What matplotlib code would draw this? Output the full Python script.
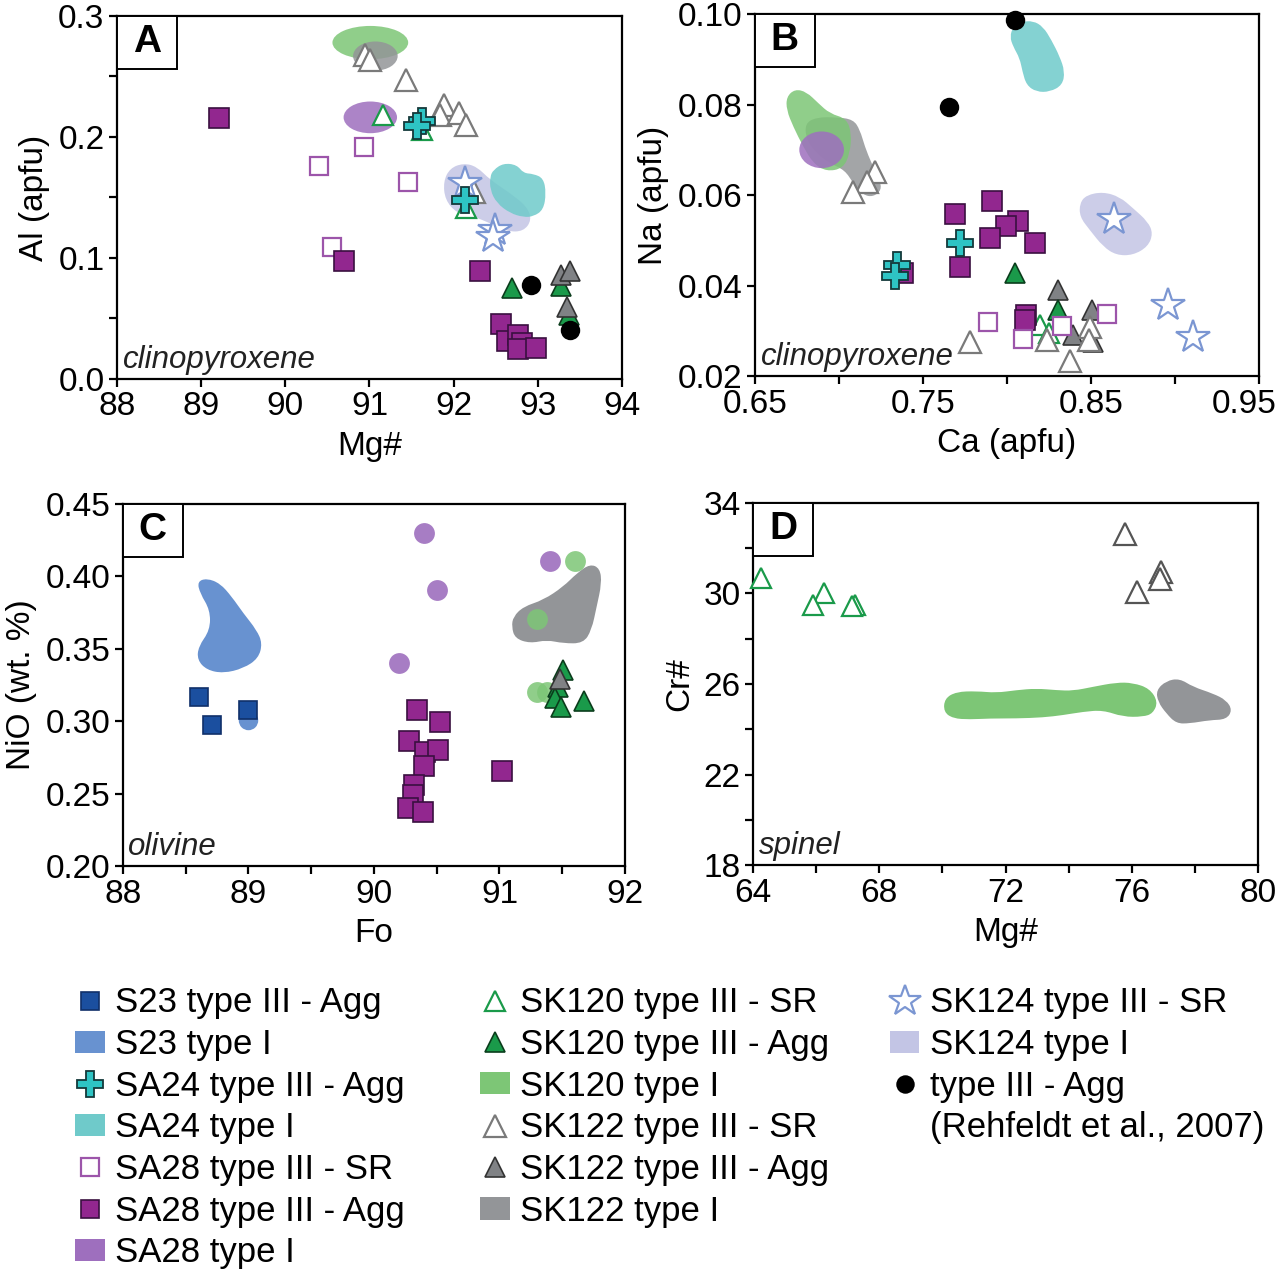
import matplotlib
matplotlib.use("Agg")
import matplotlib.pyplot as plt
import matplotlib.lines as mlines
import matplotlib.patches as mpatches
import matplotlib.transforms as mtransforms
from matplotlib.path import Path
import numpy as np

plt.rcParams['font.family'] = ['Liberation Sans', 'DejaVu Sans']

# ---------------------------------------------------------------------------
# Colours
# ---------------------------------------------------------------------------
C_S23_AGG   = "#1b4f9f"
C_S23_I     = "#6892d0"
C_SA24      = "#2ec4c4"
C_SA24_I    = "#6fcaca"
C_SA28_SR   = "#9c55aa"
C_SA28_AGG  = "#92278f"
C_SA28_I    = "#9e6fbe"
C_SK120     = "#1a9a4a"
C_SK120_I   = "#7dc676"
C_SK122_SR  = "#7a7a7a"
C_SK122_AGG = "#808285"
C_SK122_I   = "#939598"
C_SK124     = "#7b96d2"
C_SK124_I   = "#c3c5e5"

# ---------------------------------------------------------------------------
# Panel A — clinopyroxene, Mg# vs Al (apfu)
# ---------------------------------------------------------------------------
a_sa28_agg_x = [89.21, 90.70, 92.31, 92.56, 92.63, 92.76, 92.81, 92.77, 92.98]
a_sa28_agg_y = [0.2155, 0.0977, 0.0889, 0.0457, 0.0314, 0.0366, 0.0300, 0.0245, 0.0256]
a_sa28_sr_x = [90.40, 90.93, 91.46, 90.55]
a_sa28_sr_y = [0.1764, 0.1921, 0.1627, 0.1090]
a_sk122_sr_x = [90.95, 91.01, 91.43, 91.88, 91.84, 92.06, 92.15, 92.24]
a_sk122_sr_y = [0.2678, 0.2637, 0.2471, 0.2265, 0.2183, 0.2196, 0.2100, 0.1549]
a_sk120_sr_x = [91.16, 91.62, 92.15]
a_sk120_sr_y = [0.2183, 0.2059, 0.1412]
a_sa24_x = [91.62, 91.57, 92.14]
a_sa24_y = [0.2136, 0.2092, 0.1481]
a_sk124_x = [92.14, 92.49, 92.47]
a_sk124_y = [0.1618, 0.1233, 0.1172]
a_sk120_agg_x = [92.69, 93.27, 93.37]
a_sk120_agg_y = [0.0751, 0.0765, 0.0531]
a_sk122_agg_x = [93.27, 93.38, 93.35]
a_sk122_agg_y = [0.0861, 0.0889, 0.0594]
a_lit_x = [92.92, 93.38]
a_lit_y = [0.0773, 0.0402]

# type I fields (ellipses: centre x, centre y, width, height)
a_sk120_field = (91.01, 0.2780, 0.90, 0.0275)
a_sk122_field = (91.07, 0.2669, 0.53, 0.0240)
a_sa28_field  = (91.01, 0.2162, 0.635, 0.0262)
a_sk124_field_x = [91.878, 91.957, 92.116, 92.274, 92.433, 92.671, 92.869, 92.929,
                   92.830, 92.631, 92.433, 92.235, 92.036, 91.898]
a_sk124_field_y = [0.1632, 0.1742, 0.1783, 0.1756, 0.1646, 0.1536, 0.1426, 0.1315,
                   0.1219, 0.1219, 0.1288, 0.1343, 0.1370, 0.1481]
a_sa24_field_x = [92.473, 92.592, 92.750, 92.830, 92.948, 93.067, 93.099, 93.067,
                  92.948, 92.830, 92.671, 92.512, 92.433, 92.433]
a_sa24_field_y = [0.1728, 0.1783, 0.1770, 0.1701, 0.1695, 0.1659, 0.1536, 0.1398,
                  0.1343, 0.1337, 0.1370, 0.1453, 0.1563, 0.1673]

# ---------------------------------------------------------------------------
# Panel B — clinopyroxene, Ca vs Na (apfu)
# ---------------------------------------------------------------------------
b_lit_x = [0.8046, 0.7654]
b_lit_y = [0.0987, 0.0794]
b_sk122_sr_x = [0.7214, 0.7164, 0.7081, 0.7780, 0.8236, 0.8375, 0.8494, 0.8490]
b_sk122_sr_y = [0.0652, 0.0629, 0.0607, 0.0276, 0.0280, 0.0234, 0.0308, 0.0280]
b_sk122_agg_x = [0.8306, 0.8504, 0.8395, 0.8512]
b_sk122_agg_y = [0.0390, 0.0346, 0.0291, 0.0276]
b_sk120_agg_x = [0.8048, 0.8306]
b_sk120_agg_y = [0.0427, 0.0346]
b_sk120_sr_x = [0.8196, 0.8250]
b_sk120_sr_y = [0.0313, 0.0295]
b_sa28_agg_x = [0.7690, 0.7912, 0.8066, 0.7997, 0.7898, 0.8169, 0.7719, 0.7382, 0.8113, 0.8107]
b_sa28_agg_y = [0.0559, 0.0587, 0.0543, 0.0531, 0.0506, 0.0495, 0.0442, 0.0427, 0.0335, 0.0324]
b_sa28_sr_x = [0.7889, 0.8098, 0.8325, 0.8594]
b_sa28_sr_y = [0.0320, 0.0281, 0.0310, 0.0337]
b_sa24_x = [0.7719, 0.7347, 0.7333]
b_sa24_y = [0.0493, 0.0445, 0.0420]
b_sk124_x = [0.8637, 0.8960, 0.9110]
b_sk124_y = [0.0548, 0.0357, 0.0287]

b_sa24_field_x = [0.8037, 0.8086, 0.8155, 0.8215, 0.8264, 0.8314, 0.8344, 0.8330,
                  0.8255, 0.8175, 0.8116, 0.8092, 0.8076, 0.8037, 0.8017]
b_sa24_field_y = [0.0972, 0.0983, 0.0985, 0.0972, 0.0943, 0.0906, 0.0873, 0.0843,
                  0.0828, 0.0828, 0.0843, 0.0873, 0.0902, 0.0928, 0.0950]
b_sk120_field_x = [0.6688, 0.6738, 0.6807, 0.6877, 0.6946, 0.7045, 0.7075, 0.7065,
                   0.7025, 0.6926, 0.6847, 0.6787, 0.6728, 0.6688]
b_sk120_field_y = [0.0817, 0.0834, 0.0828, 0.0803, 0.0780, 0.0769, 0.0736, 0.0692,
                   0.0659, 0.0652, 0.0670, 0.0707, 0.0751, 0.0788]
b_sk122_field_x = [0.6797, 0.6867, 0.6986, 0.7085, 0.7125, 0.7154, 0.7194, 0.7243,
                   0.7253, 0.7204, 0.7144, 0.7085, 0.7035, 0.6946, 0.6867, 0.6807]
b_sk122_field_y = [0.0758, 0.0772, 0.0772, 0.0767, 0.0744, 0.0707, 0.0670, 0.0633,
                   0.0611, 0.0596, 0.0600, 0.0626, 0.0655, 0.0670, 0.0692, 0.0722]
b_sa28_field = (0.6897, 0.0700, 0.0266, 0.0081)
b_sk124_field_x = [0.8433, 0.8473, 0.8572, 0.8671, 0.8750, 0.8839, 0.8869, 0.8839,
                   0.8750, 0.8651, 0.8572, 0.8492, 0.8433]
b_sk124_field_y = [0.0582, 0.0600, 0.0607, 0.0596, 0.0571, 0.0541, 0.0515, 0.0486,
                   0.0467, 0.0467, 0.0486, 0.0523, 0.0552]

# ---------------------------------------------------------------------------
# Panel C — olivine, Fo vs NiO (wt. %)
# ---------------------------------------------------------------------------
c_s23_agg_x = [88.61, 88.71, 89.00]
c_s23_agg_y = [0.3169, 0.2974, 0.3077]
c_s23_i_x = [89.00]
c_s23_i_y = [0.3008]
c_sa28_agg_x = [90.34, 90.53, 90.28, 90.41, 90.51, 90.40, 90.32, 90.31, 90.27, 90.39, 91.02]
c_sa28_agg_y = [0.3077, 0.2992, 0.2866, 0.2790, 0.2801, 0.2691, 0.2559, 0.2490, 0.2398, 0.2375, 0.2656]
c_sa28_i_x = [90.40, 90.50, 90.20, 91.40]
c_sa28_i_y = [0.4302, 0.3906, 0.3404, 0.4104]
c_sk120_i_x = [91.60, 91.30, 91.30, 91.38]
c_sk120_i_y = [0.4106, 0.3703, 0.3204, 0.3204]
c_sk120_agg_x = [91.51, 91.47, 91.44, 91.49, 91.67]
c_sk120_agg_y = [0.3354, 0.3239, 0.3158, 0.3096, 0.3142]
c_sk122_agg_x = [91.48]
c_sk122_agg_y = [0.3289]

c_s23_field_x = [88.594, 88.669, 88.775, 88.868, 88.961, 89.066, 89.112, 89.080,
                 88.961, 88.801, 88.669, 88.594, 88.602, 88.695, 88.695, 88.616]
c_s23_field_y = [0.3964, 0.3987, 0.3952, 0.3860, 0.3745, 0.3630, 0.3538, 0.3434,
                 0.3365, 0.3331, 0.3354, 0.3423, 0.3515, 0.3630, 0.3768, 0.3883]
c_sk122_field_x = [91.110, 91.190, 91.349, 91.508, 91.615, 91.721, 91.800, 91.814,
                   91.774, 91.734, 91.668, 91.508, 91.376, 91.243, 91.124, 91.097]
c_sk122_field_y = [0.3722, 0.3791, 0.3837, 0.3929, 0.4021, 0.4086, 0.4056, 0.3952,
                   0.3791, 0.3630, 0.3538, 0.3538, 0.3561, 0.3538, 0.3572, 0.3653]

# ---------------------------------------------------------------------------
# Panel D — spinel, Mg# vs Cr#
# ---------------------------------------------------------------------------
d_sk120_sr_x = [64.24, 66.24, 65.90, 67.22, 67.15]
d_sk120_sr_y = [30.70, 30.03, 29.48, 29.48, 29.44]
d_sk122_sr_x = [75.80, 76.94, 76.88, 76.18]
d_sk122_sr_y = [32.65, 30.95, 30.62, 30.07]

d_sk120_field_x = [70.072, 70.441, 71.075, 71.709, 72.342, 72.976, 73.609, 74.137,
                   74.771, 75.510, 76.038, 76.566, 76.830, 76.672, 76.355, 75.721,
                   75.088, 74.454, 73.820, 73.187, 72.342, 71.497, 70.864, 70.336, 70.040]
d_sk120_field_y = [25.360, 25.655, 25.684, 25.610, 25.728, 25.802, 25.728, 25.699,
                   25.875, 26.067, 26.052, 25.802, 25.213, 24.698, 24.550, 24.550,
                   24.845, 24.771, 24.624, 24.521, 24.477, 24.477, 24.433, 24.477, 24.771]
d_sk122_field_x = [76.777, 77.094, 77.516, 77.939, 78.572, 78.995, 79.185, 78.995,
                   78.467, 77.833, 77.411, 77.094, 76.830]
d_sk122_field_y = [25.728, 26.140, 26.243, 25.875, 25.581, 25.286, 24.845, 24.433,
                   24.403, 24.256, 24.256, 24.698, 25.213]

# ---------------------------------------------------------------------------
# Marker styles
# ---------------------------------------------------------------------------
ST_S23_AGG   = dict(marker="s", ms=13, mfc=C_S23_AGG, mec="#10306a", mew=1.2)
ST_SA24      = dict(marker="P", ms=19, mfc=C_SA24, mec="#14393a", mew=1.3)
ST_SA28_SR   = dict(marker="s", ms=13, mfc="white", mec=C_SA28_SR, mew=1.6)
ST_SA28_AGG  = dict(marker="s", ms=14, mfc=C_SA28_AGG, mec="#3a1040", mew=1.2)
ST_SK120_SR  = dict(marker="^", ms=15, mfc="white", mec=C_SK120, mew=1.6)
ST_SK120_AGG = dict(marker="^", ms=15, mfc=C_SK120, mec="#0b3d1c", mew=1.2)
ST_SK122_SR  = dict(marker="^", ms=16, mfc="white", mec=C_SK122_SR, mew=1.6)
ST_SK122_AGG = dict(marker="^", ms=15, mfc=C_SK122_AGG, mec="#333333", mew=1.2)
ST_SK124     = dict(marker="*", ms=25, mfc="white", mec=C_SK124, mew=1.6)
ST_LIT       = dict(marker="o", ms=14, mfc="black", mec="black", mew=0)
FIELD_ALPHA = 0.85


def pts(ax, x, y, st, z=4):
    ax.plot(x, y, ls="none", zorder=z, clip_on=False, **st)


def field(ax, xs, ys, color, alpha=FIELD_ALPHA, z=2):
    # closed smooth outline through the digitised vertices (quadratic Bezier)
    p = np.column_stack([xs, ys])
    mids = (p + np.roll(p, -1, axis=0)) / 2
    verts = [mids[-1]]
    codes = [Path.MOVETO]
    for i in range(len(p)):
        verts += [p[i], mids[i]]
        codes += [Path.CURVE3, Path.CURVE3]
    verts.append(mids[-1])
    codes.append(Path.CLOSEPOLY)
    ax.add_patch(mpatches.PathPatch(Path(verts, codes), facecolor=color,
                                    edgecolor="none", alpha=alpha, zorder=z))


def ellipse(ax, e, color, alpha=FIELD_ALPHA, z=2):
    ax.add_patch(mpatches.Ellipse((e[0], e[1]), e[2], e[3], facecolor=color,
                                  edgecolor="none", alpha=alpha, zorder=z))


def style_ax(ax, letter, mineral):
    for s in ax.spines.values():
        s.set_linewidth(1.6)
    ax.tick_params(direction="out", length=6, width=1.6, labelsize=24, pad=3)
    ax.add_patch(mpatches.Rectangle((0, 1), 0.119, -0.146, transform=ax.transAxes,
                                    facecolor="white", edgecolor="black",
                                    lw=1.4, zorder=6, clip_on=False))
    ax.text(0.0595, 0.927, letter, transform=ax.transAxes, ha="center", va="center",
            fontsize=28, fontweight="bold", zorder=7)
    ax.text(0.011, 0.010, mineral, transform=ax.transAxes, ha="left", va="bottom",
            fontsize=22.5, style="italic", color="#222222", zorder=7)


# ---------------------------------------------------------------------------
# Figure
# ---------------------------------------------------------------------------
fig = plt.figure(figsize=(12.8, 12.76), dpi=100)
fig.patch.set_facecolor("white")
axA = fig.add_axes([0.0914, 0.7030, 0.3945, 0.2845])
axB = fig.add_axes([0.5898, 0.7053, 0.3938, 0.2837])
axC = fig.add_axes([0.0959, 0.3213, 0.3924, 0.2837])
axD = fig.add_axes([0.5883, 0.3221, 0.3945, 0.2837])

# ---- Panel A ----
ax = axA
ellipse(ax, a_sk120_field, C_SK120_I)
ellipse(ax, a_sk122_field, C_SK122_I)
ellipse(ax, a_sa28_field, C_SA28_I)
field(ax, a_sk124_field_x, a_sk124_field_y, C_SK124_I)
field(ax, a_sa24_field_x, a_sa24_field_y, C_SA24_I, z=2.5)
pts(ax, a_sk122_sr_x, a_sk122_sr_y, ST_SK122_SR)
pts(ax, a_sk120_sr_x, a_sk120_sr_y, ST_SK120_SR)
pts(ax, a_sa28_sr_x, a_sa28_sr_y, ST_SA28_SR)
pts(ax, a_sa28_agg_x, a_sa28_agg_y, ST_SA28_AGG)
pts(ax, a_sk124_x, a_sk124_y, ST_SK124)
pts(ax, a_sa24_x, a_sa24_y, ST_SA24, z=5)
pts(ax, a_sk120_agg_x, a_sk120_agg_y, ST_SK120_AGG)
pts(ax, a_sk122_agg_x, a_sk122_agg_y, ST_SK122_AGG)
pts(ax, a_lit_x, a_lit_y, ST_LIT)
ax.set_xlim(88, 94)
ax.set_ylim(0, 0.3)
ax.set_xticks(np.arange(88, 94.1, 1))
ax.set_xticklabels(["88", "89", "90", "91", "92", "93", "94"])
ax.set_yticks(np.arange(0, 0.301, 0.05))
ax.set_yticklabels(["0.0", "", "0.1", "", "0.2", "", "0.3"])
ax.set_xlabel("Mg#", fontsize=24, labelpad=6)
ax.set_ylabel("Al (apfu)", fontsize=24, labelpad=6)
style_ax(ax, "A", "clinopyroxene")

# ---- Panel B ----
ax = axB
field(ax, b_sk122_field_x, b_sk122_field_y, C_SK122_I)
field(ax, b_sk120_field_x, b_sk120_field_y, C_SK120_I, z=2.2)
ellipse(ax, b_sa28_field, C_SA28_I, z=2.4)
field(ax, b_sa24_field_x, b_sa24_field_y, C_SA24_I)
field(ax, b_sk124_field_x, b_sk124_field_y, C_SK124_I)
pts(ax, b_sk122_agg_x, b_sk122_agg_y, ST_SK122_AGG)
pts(ax, b_sk120_agg_x, b_sk120_agg_y, ST_SK120_AGG)
pts(ax, b_sk120_sr_x, b_sk120_sr_y, ST_SK120_SR)
pts(ax, b_sk122_sr_x, b_sk122_sr_y, ST_SK122_SR)
pts(ax, b_sa28_agg_x, b_sa28_agg_y, ST_SA28_AGG)
pts(ax, b_sa28_sr_x, b_sa28_sr_y, ST_SA28_SR)
pts(ax, b_sa24_x, b_sa24_y, ST_SA24, z=5)
pts(ax, b_sk124_x, b_sk124_y, ST_SK124)
pts(ax, b_lit_x, b_lit_y, ST_LIT)
ax.set_xlim(0.65, 0.95)
ax.set_ylim(0.02, 0.10)
ax.set_xticks(np.arange(0.65, 0.951, 0.05))
ax.set_xticklabels(["0.65", "", "0.75", "", "0.85", "", "0.95"])
ax.set_yticks(np.arange(0.02, 0.1001, 0.02))
ax.set_yticklabels(["0.02", "0.04", "0.06", "0.08", "0.10"])
ax.set_xlabel("Ca (apfu)", fontsize=24, labelpad=6)
ax.set_ylabel("Na (apfu)", fontsize=24, labelpad=6)
style_ax(ax, "B", "clinopyroxene")
# last x label sits against the figure edge; nudge it inward
last = ax.get_xticklabels()[-1]
last.set_transform(last.get_transform()
                   + mtransforms.ScaledTranslation(-0.15, 0, fig.dpi_scale_trans))

# ---- Panel C ----
ax = axC
field(ax, c_s23_field_x, c_s23_field_y, C_S23_I, alpha=1)
field(ax, c_sk122_field_x, c_sk122_field_y, C_SK122_I, alpha=1)
pts(ax, c_s23_i_x, c_s23_i_y, dict(marker="o", ms=14, mfc=C_S23_I, mec="none"), z=3)
pts(ax, c_sa28_i_x, c_sa28_i_y, dict(marker="o", ms=15, mfc=C_SA28_I, mec="none", alpha=0.9), z=3)
pts(ax, c_sk120_i_x, c_sk120_i_y, dict(marker="o", ms=15, mfc=C_SK120_I, mec="none", alpha=0.85), z=3)
pts(ax, c_s23_agg_x, c_s23_agg_y, ST_S23_AGG)
pts(ax, c_sa28_agg_x, c_sa28_agg_y, ST_SA28_AGG)
pts(ax, c_sk120_agg_x, c_sk120_agg_y, ST_SK120_AGG)
pts(ax, c_sk122_agg_x, c_sk122_agg_y, ST_SK122_AGG)
ax.set_xlim(88, 92)
ax.set_ylim(0.20, 0.45)
ax.set_xticks(np.arange(88, 92.01, 0.5))
ax.set_xticklabels(["88", "", "89", "", "90", "", "91", "", "92"])
ax.set_yticks(np.arange(0.20, 0.4501, 0.05))
ax.set_yticklabels(["0.20", "0.25", "0.30", "0.35", "0.40", "0.45"])
ax.set_xlabel("Fo", fontsize=24, labelpad=6)
ax.set_ylabel("NiO (wt. %)", fontsize=24, labelpad=6)
style_ax(ax, "C", "olivine")

# ---- Panel D ----
ax = axD
field(ax, d_sk120_field_x, d_sk120_field_y, C_SK120_I, alpha=1)
field(ax, d_sk122_field_x, d_sk122_field_y, C_SK122_I, alpha=1)
pts(ax, d_sk120_sr_x, d_sk120_sr_y, ST_SK120_SR)
pts(ax, d_sk122_sr_x, d_sk122_sr_y, dict(ST_SK122_SR, mec="#555555"))
ax.set_xlim(64, 80)
ax.set_ylim(18, 34)
ax.set_xticks(np.arange(64, 80.1, 2))
ax.set_xticklabels(["64", "", "68", "", "72", "", "76", "", "80"])
ax.set_yticks(np.arange(18, 34.1, 2))
ax.set_yticklabels(["18", "", "22", "", "26", "", "30", "", "34"])
ax.set_xlabel("Mg#", fontsize=24, labelpad=6)
ax.set_ylabel("Cr#", fontsize=24, labelpad=6)
style_ax(ax, "D", "spinel")

# ---------------------------------------------------------------------------
# Legend (three columns)
# ---------------------------------------------------------------------------
def mk(st, scale=0.95):
    s = dict(st)
    s["ms"] = st["ms"] * scale
    return mlines.Line2D([], [], ls="none", **s)


def box(color):
    return mpatches.Patch(facecolor=color, edgecolor="none")


col1 = [(mk(ST_S23_AGG), "S23 type III - Agg"),
        (box(C_S23_I), "S23 type I"),
        (mk(ST_SA24), "SA24 type III - Agg"),
        (box(C_SA24_I), "SA24 type I"),
        (mk(ST_SA28_SR), "SA28 type III - SR"),
        (mk(ST_SA28_AGG), "SA28 type III - Agg"),
        (box(C_SA28_I), "SA28 type I")]
col2 = [(mk(ST_SK120_SR), "SK120 type III - SR"),
        (mk(ST_SK120_AGG), "SK120 type III - Agg"),
        (box(C_SK120_I), "SK120 type I"),
        (mk(ST_SK122_SR), "SK122 type III - SR"),
        (mk(ST_SK122_AGG), "SK122 type III - Agg"),
        (box(C_SK122_I), "SK122 type I")]
col3 = [(mk(ST_SK124), "SK124 type III - SR"),
        (box(C_SK124_I), "SK124 type I"),
        (mk(ST_LIT), "type III - Agg"),
        (mlines.Line2D([], [], ls="none"), "(Rehfeldt et al., 2007)")]

for entries, x0 in [(col1, 0.0586), (col2, 0.375), (col3, 0.695)]:
    h, l = zip(*entries)
    fig.legend(h, l, loc="upper left", bbox_to_anchor=(x0, 0.2270),
               frameon=False, fontsize=25, handlelength=0.86, handleheight=0.6,
               handletextpad=0.3, labelspacing=0.25, borderpad=0, borderaxespad=0)

fig.savefig("out.png", dpi=100, facecolor="white")
plt.close(fig)
